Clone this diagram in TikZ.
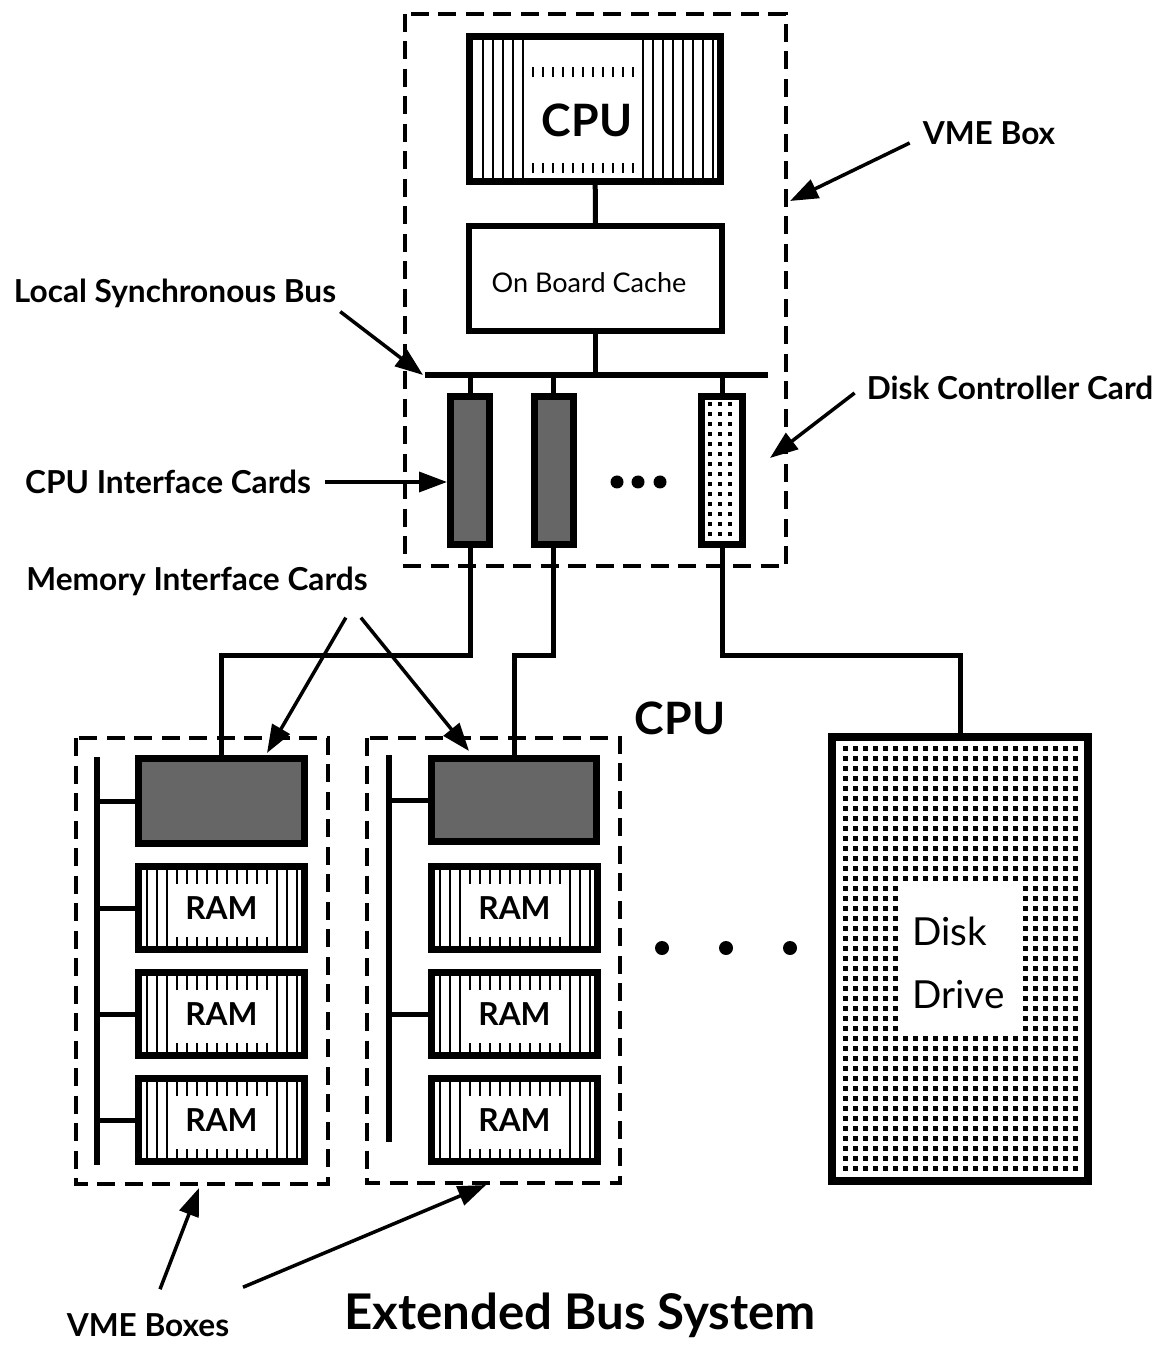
\documentclass[tikz,border=0pt]{standalone}
\usepackage{fontspec}
\setmainfont{Lato}
\usetikzlibrary{arrows.meta}
\begin{document}
\begin{tikzpicture}[x=0.1mm,y=-0.1mm,
  every node/.style={font=\bfseries\fontsize{9}{10}\selectfont,inner sep=1pt},
  bigtext/.style={font=\bfseries\fontsize{12.7}{14}\selectfont},
  vmebox/.style={line width=0.35mm,dash pattern=on 1.8mm off 0.95mm},
  board/.style={draw,line width=0.7mm,inner sep=0pt},
  ifcard/.style={board,fill=black!60},
  link/.style={line width=0.5mm},
  pointer/.style={line width=0.35mm,-{Triangle[length=2.8mm,width=2mm]}},
  hatch/.style={line width=0.13mm}]
  \useasboundingbox (0,0) rectangle (1167,1345);
  % VME box: processor, cache and the cards on the local bus
  \draw[vmebox] (405,14) rectangle (786,566);
  \foreach \h in {483,493,...,523,643,653,...,713}
    \draw[hatch] (\h,40) -- (\h,178);
  \foreach \h in {533,543,...,633}
    \draw[hatch] (\h,67) -- (\h,77) (\h,163) -- (\h,173);
  \node[board,minimum width=25.1mm,minimum height=14.5mm] (cpu) at (595,109) {};
  \node[bigtext] (cpulbl) at (587,120) {CPU};
  \node[board,line width=0.6mm,minimum width=25.3mm,minimum height=10.5mm,
    font=\fontsize{7.7}{9}\selectfont] (cache) at (595.5,278.5) {};
  \node[font=\fontsize{7.7}{9}\selectfont] (cachelbl) at (589,283) {On Board Cache};
  \coordinate (busL) at (425,375);
  \coordinate (busR) at (768,375);
  \draw[line width=0.6mm] (busL) -- (busR);
  \node[ifcard,minimum width=3.9mm,minimum height=14.8mm] (cic1) at (470,470.5) {};
  \node[ifcard,minimum width=3.9mm,minimum height=14.8mm] (cic2) at (553.5,470.5) {};
  \foreach \x in {710,720,730}
    \foreach \y in {404,414,...,534}
      \fill (\x-2.3,\y-2.3) rectangle ++(4.6,4.6);
  \node[board,minimum width=4.1mm,minimum height=14.8mm] (dcc) at (722,470.5) {};
  \foreach \x in {617,638,660}
    \fill (\x,482) circle (0.65mm);
  \draw[link] (cpu) -- (cache);
  \draw[link] (cache) -- (cache |- busL);
  \foreach \c in {cic1,cic2,dcc}
    \draw[link] (\c) -- (\c |- busL);

  % two VME boxes with memory
  \draw[vmebox] (76,738) rectangle (328,1184);
  \draw[vmebox] (367,738) rectangle (620,1183);
  \node[ifcard,minimum width=16.6mm,minimum height=8.5mm] (mica) at (221.5,801) {};
  \node[ifcard,minimum width=16.5mm,minimum height=8.3mm] (micb) at (514,800) {};
  \foreach \bx/\bl in {135/a,428/b}
    \foreach \by/\rn in {862/1,968/2,1074/3} {
      \foreach \h in {12,22,32,142,152,162}
        \draw[hatch] (\bx+\h,\by+6) -- (\bx+\h,\by+84);
      \foreach \h in {42,52,...,132}
        \draw[hatch] (\bx+\h,\by+6) -- (\bx+\h,\by+22) (\bx+\h,\by+75) -- (\bx+\h,\by+84);
      \node[board,minimum width=16.6mm,minimum height=8.3mm] (ram\bl\rn) at (\bx+86.5,\by+46) {RAM};
    }
  \coordinate (lbusT) at (97,757);
  \coordinate (lbusB) at (97,1165);
  \draw[line width=0.6mm] (lbusT) -- (lbusB);
  \foreach \c in {mica,rama1,rama2,rama3}
    \draw[link] (\c) -- (\c -| lbusT);
  \coordinate (mbusT) at (389,755);
  \coordinate (mbusB) at (389,1142);
  \draw[line width=0.6mm] (mbusT) -- (mbusB);
  \foreach \c in {micb,ramb2}
    \draw[link] (\c) -- (\c -| mbusT);
  \foreach \x in {662,726,790}
    \fill (\x,948) circle (0.7mm);

  % disk drive
  \foreach \x in {845,855,...,1075}
    \foreach \y in {748,758,...,1168}
      \fill (\x-2.5,\y-2.5) rectangle ++(5,5);
  \fill[white] (898,883) rectangle (1018,1032);
  \node[board,line width=0.8mm,minimum width=25.6mm,minimum height=44.4mm] (disk) at (960,959) {};
  \node[anchor=base west,font=\fontsize{11}{12}\selectfont] (disktxt1) at (908,945) {Disk};
  \node[anchor=base west,font=\fontsize{11}{12}\selectfont] (disktxt2) at (908,1008) {Drive};

  % extended bus
  \coordinate (drop) at (0,655);
  \draw[link] (cic1) -- (cic1 |- drop) -| (mica.north);
  \draw[link] (cic2) -- (cic2 |- drop) -| (micb.north);
  \draw[link] (dcc) -- (dcc |- drop) -| (disk.north);

  % labels and pointers
  \node (lblvme) at (989,133) {VME Box};
  \coordinate (vmetip) at (790,201);
  \draw[pointer] ([shift={(-9,10)}]lblvme.west) -- (vmetip);
  \node (lblbus) at (175,293) {Local Synchronous Bus};
  \draw[pointer] (lblbus.south east) -- ([xshift=-0.2mm]busL);
  \node (lblcic) at (168,482) {CPU Interface Cards};
  \draw[pointer] ([xshift=1mm]lblcic.east) -- (lblcic.east -| cic1.west);
  \node (lbldcc) at (1010,388) {Disk Controller Card};
  \coordinate (dcctip) at (770,458);
  \draw[pointer] ([shift={(-8,5)}]lbldcc.west) -- (dcctip);
  \node (lblmic) at (197,581) {Memory Interface Cards};
  \coordinate (memtipa) at (267,753);
  \coordinate (memtipb) at (469,751);
  \draw[pointer] ([shift={(-26,18)}]lblmic.south east) -- (memtipa);
  \draw[pointer] ([shift={(-11,18)}]lblmic.south east) -- (memtipb);
  \node[bigtext] (cpumid) at (680,718) {CPU};
  \node (lblvmes) at (148,1325) {VME Boxes};
  \coordinate (boxtipa) at (199,1188);
  \coordinate (boxtipb) at (486,1185);
  \draw[pointer] ([shift={(12,-20)}]lblvmes.north) -- (boxtipa);
  \draw[pointer] ([shift={(95,-22)}]lblvmes.north) -- (boxtipb);
  \node[bigtext,font=\bfseries\fontsize{14}{16}\selectfont] (title) at (580,1315) {Extended Bus System};
\end{tikzpicture}
\end{document}
